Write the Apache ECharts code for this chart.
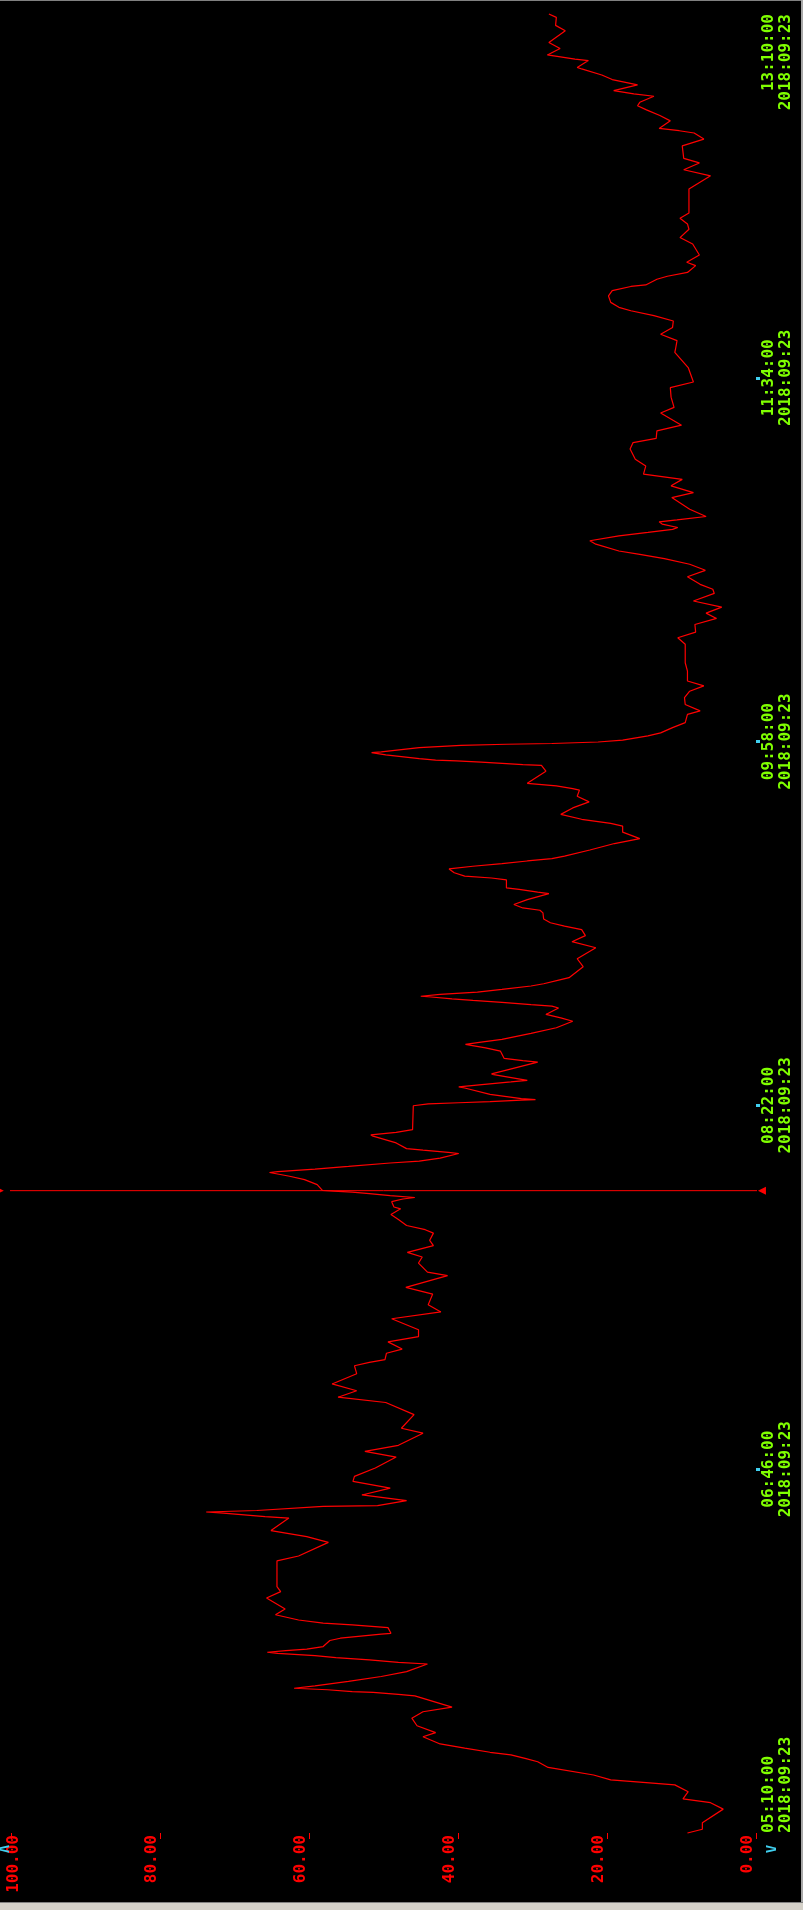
<!DOCTYPE html>
<html>
<head>
<meta charset="utf-8">
<script src="https://cdn.jsdelivr.net/npm/echarts@6/dist/echarts.min.js"></script>
<style>
html,body{margin:0;padding:0;background:#000;}
#c{width:803px;height:1910px;}
</style>
</head>
<body>
<div id="c"></div>
<script>
// minutes after 05:10:00 on 2018-09-23
const minutes = [
0,1.0,2.7,6.3,8.0,9.0,10.9,12.7,13.4,14.0,15.3,17.3,18.8,19.7,20.6,21.3,22.4,23.5,25.4,26.5,28.3,30.3,32.0,33.2,36.2,36.6,37.1,37.3,37.8,38.2,38.8,40.0,41.3,42.6,44.6,45.0,45.7,46.3,46.8,47.4,47.7,48.1,48.5,49.2,50.8,51.4,52.5,52.7,54.2,54.9,55.4,56.2,57.6,59.1,
62.0,63.7,65.0,71.8,73.1,76.7,78.2,79.8,83.1,83.5,84.4,84.7,85.1,86.2,86.4,87.7,89.2,91.0,92.8,94.1,96.3,99.2,100.7,102.3,105.5,106.8,110.4,113.6,115.0,116.7,118.5,121.2,123.3,
124.2,124.9,126.6,127.7,129.6,131.0,132.8,135.7,137.5,139.4,142.2,144.0,147.1,148.0,150.4,152.0,153.2,155.0,156.4,158.3,159.2,160.3,161.9,163.2,164.7,165.2,166.6,167.3,167.7,168.2,168.7,169.1,169.4,169.6,171.1,172.4,173.3,174.3,174.5,175.2,175.9,176.8,177.3,178.1,179.3,179.6,180.2,180.6,182.1,183.9,184.2,184.9,185.6,
191.9,192.4,192.7,193.0,193.4,193.5,193.8,194.9,196.6,196.9,197.5,198.2,198.6,200.1,200.3,201.3,203.4,203.8,204.4,206.3,207.2,208.1,208.7,209.4,211.0,212.5,214.2,215.1,216.0,217.7,218.2,218.6,219.2,219.7,220.1,220.6,220.8,221.3,221.9,222.6,223.5,224.1,225.2,225.7,228.6,230.7,233.6,235.2,236.8,238.4,239.3,240.2,241.2,242.8,243.5,244.1,245.0,246.3,247.9,248.3,249.0,249.4,
251.5,252.0,252.5,253.4,254.4,255.1,255.8,256.5,257.1,257.8,259.4,261.1,262.4,264.1,265.7,266.4,266.9,267.5,268.8,270.5,272.1,273.6,275.2,275.6,276.3,277.0,280.2,281.7,281.9,282.2,282.6,282.9,283.1,283.5,284.5,285.1,285.3,286.4,287.0,287.3,287.5,287.9,288.4,289.5,290.3,291.7,293.0,295.2,296.1,297.8,299.6,301.3,302.7,304.0,306.6,308.8,313.7,
315.4,316.9,318.9,320.5,321.9,323.5,325.1,327.1,328.2,329.5,331.5,333.2,334.8,336.3,337.4,338.3,340.1,341.0,342.3,343.2,344.0,344.5,345.4,346.0,346.5,347.4,349.3,352.4,353.7,355.5,357.2,358.6,360.7,362.5,365.2,366.9,368.0,370.0,371.5,374.7,376.2,
378.9,381.4,382.9,386.7,390.7,391.6,393.8,395.5,397.3,399.0,400.4,401.7,402.6,403.9,405.6,407.0,408.1,408.5,410.0,410.8,411.8,413.6,414.5,416.4,419.3,421.0,423.2,424.6,426.1,427.5,433.8,437.3,438.9,440.7,441.9,445.2,447.0,448.6,449.2,449.8,451.8,453.2,454.7,455.8,456.7,458.3,458.9,459.8,461.3,462.7,463.9,465.5,465.9,467.7,468.1,469.2,470.9,472.5,475.6,477.0,479.1,480
];
const values = [
9.2,7.2,7.2,4.4,6.1,9.8,9.1,10.9,15.6,19.5,21.8,27.9,29.3,31.0,32.9,35.7,39.1,42.4,44.7,43.0,45.5,46.2,44.7,40.8,45.8,48.0,51.4,54.2,57.5,62.0,59.2,54.7,50.3,46.9,44.1,48.0,51.9,56.4,59.2,64.2,65.6,63.1,60.3,58.1,57.2,55.8,50.3,49.0,49.4,54.2,58.1,61.4,64.5,63.2,
65.7,63.8,64.3,64.3,61.4,57.4,60.3,65.1,62.7,65.9,71.5,73.8,67.0,58.1,50.8,46.9,52.9,49.1,54.1,53.9,51.1,48.3,52.5,48.0,44.7,47.6,45.9,49.7,56.1,53.6,56.9,53.6,53.9,
51.9,49.8,49.6,47.5,49.4,45.3,45.3,48.9,42.3,44.0,43.4,47.0,41.4,44.1,45.3,44.8,46.8,43.3,43.8,43.3,44.4,46.9,48.0,49.0,47.7,48.6,48.9,47.4,45.8,49.1,51.9,54.2,56.7,58.2,58.9,60.6,62.6,65.3,64.2,59.2,54.7,49.1,45.2,42.4,39.9,41.3,44.7,46.9,48.3,51.4,51.7,48.3,46.1,
46.0,44.0,39.9,35.7,31.5,29.6,31.5,35.7,39.1,39.9,36.8,32.9,30.7,35.2,35.5,33.5,29.3,31.3,33.8,34.3,36.3,39.0,36.9,34.1,30.2,26.8,24.6,26.2,28.2,26.5,27.4,30.2,34.1,38.0,40.8,43.6,45.0,42.4,37.4,34.1,30.2,28.5,26.2,25.1,23.2,24.0,21.5,24.7,22.9,23.4,25.7,27.6,28.5,28.6,29.0,31.3,32.5,30.7,27.8,29.3,31.8,33.5,
33.5,35.5,39.1,40.5,41.2,38.0,34.1,30.7,27.4,25.7,22.3,19.0,15.6,17.9,17.9,19.5,21.2,23.4,26.2,24.6,22.4,24.0,23.7,24.6,26.8,30.7,28.2,28.8,31.3,33.5,36.9,40.2,43.0,45.2,49.7,51.6,50.3,45.2,39.6,33.5,27.4,21.2,17.9,14.5,12.8,11.2,9.5,9.2,7.5,9.5,9.6,8.9,7.0,9.2,9.2,9.5,9.5,
10.5,8.1,8.2,5.3,6.7,4.6,8.4,5.6,5.8,7.5,9.2,6.8,8.9,12.3,15.6,18.4,21.5,22.3,18.4,14.5,11.2,10.5,12.6,13.0,10.6,6.7,8.9,11.3,8.4,11.4,9.9,15.1,14.8,16.2,16.9,16.5,13.4,13.3,10.0,12.8,11.0,
11.4,11.5,8.4,9.1,10.9,10.8,10.6,12.8,11.2,11.1,13.7,16.8,18.4,19.5,19.8,19.3,16.8,14.8,13.3,11.9,9.2,8.1,9.3,7.6,8.5,10.2,9.0,9.2,10.2,9.0,9.0,6.1,9.7,7.6,9.7,9.9,7.0,8.3,10.3,13.0,11.5,12.9,14.7,15.9,15.6,13.7,16.4,19.1,15.9,19.3,20.7,23.4,24.0,22.5,24.3,28.0,26.3,27.8,25.6,26.9,26.8,27.8
];
const valueTicks = [0, 20, 40, 60, 80, 100];
const timeTicks = [0, 96, 192, 288, 384, 480];   // minutes after start
const markedTimeTicks = [96, 192, 288, 384];
const startClock = 5 * 60 + 10;                  // 05:10
const dateText = '2018:09:23';
const cursorMinute = 169.5;                      // 07:59:30
const cursorSpan = [101.5, -0.8];                // value range of the cursor line (edge to edge)

const RED = '#ff0000', GREEN = '#80ff00', CYAN = '#40d0f0';
const MONO = '"DejaVu Sans Mono","Liberation Mono",monospace';

function pad(n){ return (n < 10 ? '0' : '') + n; }
function clockText(m){
  const tot = Math.round(startClock + m);
  return pad(Math.floor(tot / 60)) + ':' + pad(tot % 60) + ':00';
}

const chart = echarts.init(document.getElementById('c'), null, {renderer: 'canvas', width: 803, height: 1910});
const tickFont = {fontFamily: MONO, fontWeight: 'bold', fontSize: 16, color: RED};

chart.setOption({
  backgroundColor: '#000',
  animation: false,
  grid: {left: 11, right: 47, top: 14, bottom: 77, containLabel: false, outerBoundsMode: 'none'},
  xAxis: {
    type: 'value', min: valueTicks[0], max: valueTicks[valueTicks.length - 1],
    interval: valueTicks[1] - valueTicks[0], inverse: true, position: 'bottom',
    splitLine: {show: false}, axisLine: {show: false},
    axisTick: {show: true, length: 6, lineStyle: {color: RED, width: 1}},
    axisLabel: {
      show: true, rotate: 90, margin: 2, verticalAlign: 'middle',
      showMinLabel: true, showMaxLabel: true, hideOverlap: false,
      fontFamily: MONO, fontWeight: 'bold', fontSize: 16, color: RED,
      formatter: function(v){
        const t = v.toFixed(2);
        return v === valueTicks[valueTicks.length - 1] ? '{s1| }{e|' + t + '}' : '{s2| }{n|' + t + '}';
      },
      rich: {
        s1: {fontSize: 1, lineHeight: 22},
        s2: {fontSize: 1, lineHeight: 32},
        n: Object.assign({lineHeight: 16, verticalAlign: 'top'}, tickFont),
        e: Object.assign({lineHeight: 16, verticalAlign: 'bottom'}, tickFont)
      }
    }
  },
  yAxis: {
    type: 'value', min: timeTicks[0], max: timeTicks[timeTicks.length - 1],
    interval: timeTicks[1] - timeTicks[0], position: 'right',
    splitLine: {show: false}, axisLine: {show: false},
    axisTick: {show: true, customValues: markedTimeTicks, length: 4, lineStyle: {color: CYAN, width: 3}},
    axisLabel: {
      show: true, rotate: 90, margin: 4,
      align: 'center', verticalAlign: 'top', alignMinLabel: 'left', alignMaxLabel: 'right',
      showMinLabel: true, showMaxLabel: true, hideOverlap: false,
      fontFamily: MONO, fontWeight: 'bold', fontSize: 16, lineHeight: 17, color: GREEN,
      formatter: function(v){ return clockText(v) + '\n' + dateText; }
    }
  },
  series: [
    {
      name: 'value', type: 'line', clip: false, symbol: 'none',
      data: minutes.map((m, i) => [values[i], m]),
      lineStyle: {color: RED, width: 1.2}, z: 3
    },
    {
      name: 'cursor', type: 'line', clip: false, showSymbol: true, symbol: 'triangle', symbolSize: 8,
      data: [
        {value: [cursorSpan[0], cursorMinute], symbolRotate: -90},
        {value: [cursorSpan[1], cursorMinute], symbolRotate: 90}
      ],
      lineStyle: {color: RED, width: 1}, itemStyle: {color: RED}, z: 2
    }
  ],
  graphic: [
    {type: 'rect', shape: {x: 0, y: 0, width: 803, height: 1}, style: {fill: '#808080'}, z: 100},
    {type: 'rect', shape: {x: 801, y: 0, width: 2, height: 1910}, style: {fill: '#a8a8a8'}, z: 100},
    {type: 'rect', shape: {x: 0, y: 1902, width: 803, height: 1}, style: {fill: '#808080'}, z: 100},
    {type: 'rect', shape: {x: 0, y: 1903, width: 803, height: 7}, style: {fill: '#d4d0c8'}, z: 100},
    {type: 'text', x: 772, y: 1849, rotation: Math.PI / 2, z: 100,
      style: {text: 'V', fill: CYAN, font: 'bold 14px "DejaVu Sans Mono"', align: 'center', verticalAlign: 'middle'}},
    {type: 'text', x: 3, y: 1849, rotation: -Math.PI / 2, z: 100,
      style: {text: 'V', fill: CYAN, font: 'bold 14px "DejaVu Sans Mono"', align: 'center', verticalAlign: 'middle'}}
  ]
});
</script>
</body>
</html>
